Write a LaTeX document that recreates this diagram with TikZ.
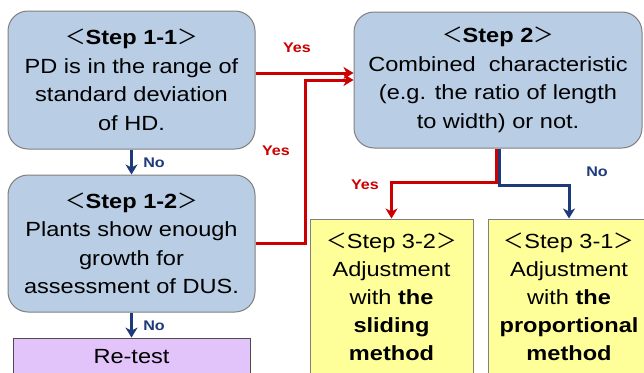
\documentclass[tikz,border=0pt]{standalone}
\usepackage{fontspec}
\setmainfont{Liberation Sans}[FakeStretch=1.15]
\newfontfamily\cjkfont{Noto Sans CJK JP}
\usetikzlibrary{arrows.meta}
\definecolor{bfill}{HTML}{B9CDE5}
\definecolor{bdraw}{HTML}{7F7F7F}
\definecolor{yfill}{HTML}{FFFF99}
\definecolor{pfill}{HTML}{E2C4FA}
\definecolor{myred}{HTML}{CC0000}
\definecolor{mynavy}{HTML}{1F3A7A}
\newcommand{\stlt}{{\cjkfont ＜}}
\newcommand{\stgt}{{\cjkfont ＞}}
\begin{document}
\begin{tikzpicture}[x=1pt,y=-1pt,
  bluebox/.style={draw=bdraw,line width=1pt,fill=bfill,rounded corners=20pt,align=center,inner sep=0pt,
     font=\fontsize{20.5}{28.5}\selectfont},
  yelbox/.style={draw=bdraw,line width=1pt,fill=yfill,align=center,inner sep=0pt,
     font=\fontsize{20.5}{28}\selectfont},
  purbox/.style={draw=black!70,line width=0.8pt,fill=pfill,align=center,inner sep=0pt,
     font=\fontsize{20.5}{28}\selectfont},
  redarr/.style={draw=myred,line width=3pt,-{Stealth[length=10pt,width=12pt,inset=3pt]}},
  bluearr/.style={draw=mynavy,line width=3pt,-{Stealth[length=10pt,width=12pt,inset=3pt]}},
  yeslbl/.style={text=myred,font=\fontsize{14}{14}\selectfont\bfseries,inner sep=0pt},
  nolbl/.style={text=mynavy,font=\fontsize{14}{14}\selectfont\bfseries,inner sep=0pt}]
\useasboundingbox (0,0) rectangle (644,372);
\clip (0,0) rectangle (644,372);

\node[bluebox,minimum width=247pt,minimum height=138pt] (s11) at (131.5,80)
  {\stlt\textbf{Step 1-1}\stgt\\PD is in the range of\\standard deviation\\of HD.};
\node[bluebox,minimum width=247pt,minimum height=137pt] (s12) at (131.5,243.5)
  {\stlt\textbf{Step 1-2}\stgt\\Plants show enough\\growth for\\assessment of DUS.};
\node[bluebox,minimum width=288pt,minimum height=136pt] (s2) at (498,80)
  {\stlt\textbf{Step 2}\stgt\\Combined\ \ characteristic\\(e.g. the ratio of length\\to width) or not.};
\node[yelbox,minimum width=163pt,minimum height=156pt] (s32) at (391.5,297)
  {\stlt Step 3-2\stgt\\Adjustment\\with \textbf{the}\\\textbf{sliding}\\\textbf{method}};
\node[yelbox,minimum width=162pt,minimum height=156pt] (s31) at (569,297)
  {\stlt Step 3-1\stgt\\Adjustment\\with \textbf{the}\\\textbf{proportional}\\\textbf{method}};
\node[purbox,minimum width=237pt,minimum height=38pt] (rt) at (131.5,357) {Re-test};

\draw[bluearr] (s11.south) -- (s12.north);
\draw[bluearr] (s12.south) -- (rt.north);
\draw[redarr] ([yshift=7pt]s11.east) -- ([yshift=7pt]s2.west);
\draw[redarr] (s12.east) -- ++(50,0) |- (s2.west);
\draw[redarr] ([xshift=-2pt]s2.south) -- ++(0,34) -| (s32.north);
\draw[bluearr] ([xshift=1.5pt]s2.south) -- ++(0,37) -| (s31.north);

\node[yeslbl] (y1) at (297,48) {Yes};
\node[yeslbl] (y2) at (276,151) {Yes};
\node[yeslbl] (y3) at (365,185) {Yes};
\node[nolbl] (n1) at (597,172) {No};
\node[nolbl] (n2) at (154,163) {No};
\node[nolbl] (n3) at (154,326) {No};
\end{tikzpicture}
\end{document}
